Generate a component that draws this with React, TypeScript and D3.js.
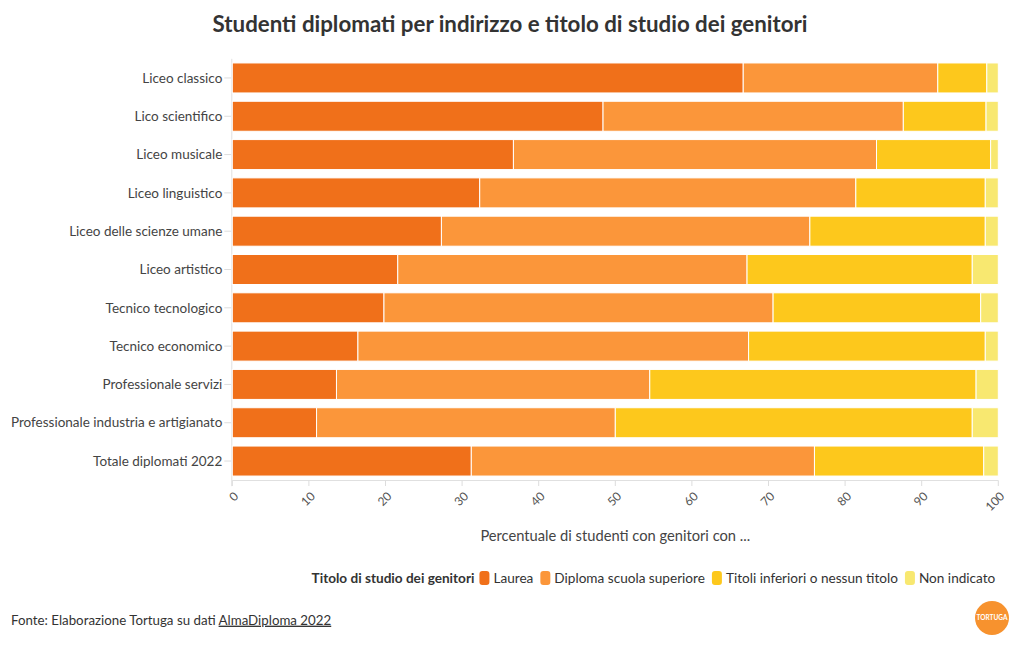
import React, { useLayoutEffect, useRef, useState } from "react";
import * as d3 from "d3";

const categories = [
  "Liceo classico",
  "Lico scientifico",
  "Liceo musicale",
  "Liceo linguistico",
  "Liceo delle scienze umane",
  "Liceo artistico",
  "Tecnico tecnologico",
  "Tecnico economico",
  "Professionale servizi",
  "Professionale industria e artigianato",
  "Totale diplomati 2022",
];
const laurea = [66.7, 48.4, 36.7, 32.3, 27.3, 21.6, 19.8, 16.4, 13.6, 11.0, 31.2];
const diploma = [25.4, 39.2, 47.4, 49.1, 48.1, 45.6, 50.8, 51.0, 40.9, 39.0, 44.8];
const inferiori = [6.4, 10.8, 14.9, 16.9, 22.9, 29.4, 27.1, 30.9, 42.6, 46.6, 22.1];
const nonIndicato = [1.5, 1.6, 1.0, 1.7, 1.7, 3.4, 2.3, 1.7, 2.9, 3.4, 1.9];
const seriesKeys = ["laurea", "diploma", "inferiori", "nonIndicato"];
const seriesNames = [
  "Laurea",
  "Diploma scuola superiore",
  "Titoli inferiori o nessun titolo",
  "Non indicato",
];
const seriesColors = ["#f0701a", "#fb963a", "#fdc81c", "#f8e870"];
const xTicks = [0, 10, 20, 30, 40, 50, 60, 70, 80, 90, 100];

const title = "Studenti diplomati per indirizzo e titolo di studio dei genitori";
const xTitle = "Percentuale di studenti con genitori con ...";
const legendTitle = "Titolo di studio dei genitori";

const FONT = "Lato, 'Noto Sans', sans-serif";
const W = 1020;
const H = 650;
const M = { left: 232.3, right: 998.3, top: 58.8, bottom: 480.2 };

function Legend() {
  const refs = useRef<(SVGTextElement | null)[]>([]);
  const [widths, setWidths] = useState<number[] | null>(null);
  useLayoutEffect(() => {
    setWidths(refs.current.map((t) => (t ? t.getComputedTextLength() : 0)));
  }, []);
  const texts = [legendTitle, ...seriesNames];
  const gapAfterTitle = 5;
  const swW = 10;
  const swGap = 4;
  const itemGap = 7;
  let positions: { tx: number; sx: number }[] = [];
  if (widths) {
    let x = M.right - 3;
    const arr: { tx: number; sx: number }[] = [];
    for (let i = texts.length - 1; i >= 1; i--) {
      const tx = x - widths[i];
      const sx = tx - swGap - swW;
      arr[i] = { tx, sx };
      x = sx - itemGap;
    }
    arr[0] = { tx: x + itemGap - gapAfterTitle - widths[0], sx: 0 };
    positions = arr;
  }
  const y = 578;
  return (
    <g style={{ visibility: widths ? "visible" : "hidden" }}>
      {texts.map((t, i) => (
        <g key={t}>
          {i > 0 && positions[i] && (
            <rect
              x={positions[i].sx}
              y={y - 7}
              width={swW}
              height={14}
              rx={3}
              fill={seriesColors[i - 1]}
            />
          )}
          <text
            ref={(el) => {
              refs.current[i] = el;
            }}
            x={positions[i] ? positions[i].tx : 0}
            y={y}
            dy="0.35em"
            fontSize={13.6}
            fontWeight={i === 0 ? 700 : 400}
            fill="#333"
          >
            {t}
          </text>
        </g>
      ))}
    </g>
  );
}

export default function App() {
  const data = categories.map((c, i) => ({
    category: c,
    laurea: laurea[i],
    diploma: diploma[i],
    inferiori: inferiori[i],
    nonIndicato: nonIndicato[i],
  }));
  const stacked = d3.stack<any>().keys(seriesKeys)(data);
  const x = d3.scaleLinear().domain([0, 100]).range([M.left, M.right]);
  const y = d3
    .scaleBand<string>()
    .domain(categories)
    .range([M.top, M.bottom])
    .paddingInner(0.217)
    .paddingOuter(0.1085);

  return (
    <svg width={W} height={H} style={{ display: "block", position: "absolute", left: 0, top: 0, fontFamily: FONT }}>
      <rect x={0} y={0} width={W} height={H} fill="#ffffff" />
      <text x={510} y={24} dy="0.35em" textAnchor="middle" fontSize={22.3} fontWeight={700} fill="#333">
        {title}
      </text>

      {/* y axis */}
      <line x1={M.left - 0.5} x2={M.left - 0.5} y1={M.top} y2={M.bottom + 6} stroke="#e0e0e0" />
      {categories.map((c) => {
        const cy = (y(c) as number) + y.bandwidth() / 2;
        return (
          <g key={c}>
            <line x1={M.left - 8} x2={M.left - 1} y1={cy} y2={cy} stroke="#ddd" />
            <text x={M.left - 10} y={cy} dy="0.35em" textAnchor="end" fontSize={13.5} fill="#444">
              {c}
            </text>
          </g>
        );
      })}

      {/* bars */}
      {stacked.map((s, si) => (
        <g key={s.key} fill={seriesColors[si]}>
          {s.map((d, i) => (
            <rect
              key={i}
              x={x(d[0])}
              y={y(categories[i]) as number}
              width={Math.max(0, x(d[1]) - x(d[0]))}
              height={y.bandwidth()}
              stroke="#ffffff"
              strokeWidth={1}
            />
          ))}
        </g>
      ))}

      {/* x axis */}
      <line x1={M.left} x2={M.right} y1={480.5} y2={480.5} stroke="#e0e0e0" />
      {xTicks.map((t) => (
        <g key={t}>
          <line x1={x(t)} x2={x(t)} y1={480.5} y2={486} stroke="#ddd" />
          <text
            transform={`translate(${x(t) + 4},${494}) rotate(-45)`}
            textAnchor="end"
            dy="0.35em"
            fontSize={12}
            fill="#555"
          >
            {t}
          </text>
        </g>
      ))}
      <text x={(M.left + M.right) / 2} y={536} dy="0.35em" textAnchor="middle" fontSize={14.7} fill="#444">
        {xTitle}
      </text>

      <Legend />

      {/* footer */}
      <text x={11} y={620} dy="0.35em" fontSize={13.3} fill="#333">
        Fonte: Elaborazione Tortuga su dati{" "}
        <tspan style={{ textDecoration: "underline" }}>AlmaDiploma 2022</tspan>
      </text>

      {/* logo */}
      <circle cx={992} cy={618} r={17} fill="#f7922e" />
      <text x={992} y={618} dy="0.35em" textAnchor="middle" fontSize={6.5} fontWeight={700} fill="#fff">
        TORTUGA
      </text>
    </svg>
  );
}
